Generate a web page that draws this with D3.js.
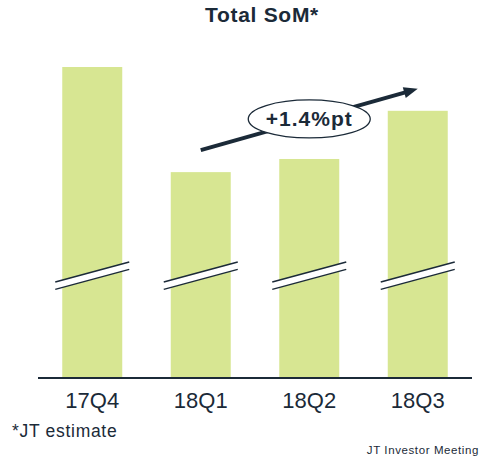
<!DOCTYPE html>
<html>
<head>
<meta charset="utf-8">
<script src="https://cdn.jsdelivr.net/npm/d3@7"></script>
<style>
  body { margin: 0; background: #fff; }
  text { font-family: "Liberation Sans", Arial, sans-serif; fill: #1b2a38; }
</style>
</head>
<body>
<svg class="chart"></svg>
<script>
var width = 484,
    height = 459;

// total share of market (%), axis is broken so bars start above zero
var quarters = ["17Q4", "18Q1", "18Q2", "18Q3"];
var som = [62.0, 59.6, 59.9, 61.0];
var change = "+1.4%pt";

var barColor = "#d7e692",
    ink = "#1b2a38";

var x = d3.scaleBand()
    .domain(quarters)
    .range([38, 472])
    .paddingInner(0.447)
    .paddingOuter(0.2235);

var y = d3.scaleLinear()
    .domain([54.9, 62.0])
    .range([378, 67]);

var chart = d3.select(".chart")
    .attr("width", width)
    .attr("height", height);

chart.append("text")
    .attr("x", 262)
    .attr("y", 22)
    .attr("text-anchor", "middle")
    .style("font-size", "21px")
    .style("font-weight", "bold")
    .style("letter-spacing", "0.7px")
    .text("Total SoM*");

var bar = chart.selectAll("g.bar")
    .data(quarters)
  .enter().append("g")
    .attr("class", "bar");

bar.append("rect")
    .attr("x", function(d) { return x(d); })
    .attr("width", x.bandwidth())
    .attr("y", function(d, i) { return y(som[i]); })
    .attr("height", function(d, i) { return y.range()[0] - y(som[i]); })
    .attr("fill", barColor);

// axis break marks
var breakY = 275.7, breakRise = 10, gap = 3.7, over = 7;
bar.append("path")
    .attr("d", function(d) {
      var x0 = x(d) - over, x1 = x(d) + x.bandwidth() + over;
      return "M" + x0 + "," + (breakY + breakRise - gap) +
        "L" + x1 + "," + (breakY - breakRise - gap) +
        "L" + x1 + "," + (breakY - breakRise + gap) +
        "L" + x0 + "," + (breakY + breakRise + gap) + "Z";
    })
    .attr("fill", "#fff");

[-gap, gap].forEach(function(off) {
  bar.append("line")
      .attr("x1", function(d) { return x(d) - over; })
      .attr("x2", function(d) { return x(d) + x.bandwidth() + over; })
      .attr("y1", breakY + breakRise + off)
      .attr("y2", breakY - breakRise + off)
      .attr("stroke", ink)
      .attr("stroke-width", 1.5);
});

// baseline
chart.append("line")
    .attr("x1", x.range()[0])
    .attr("x2", x.range()[1])
    .attr("y1", y.range()[0])
    .attr("y2", y.range()[0])
    .attr("stroke", ink)
    .attr("stroke-width", 2);

bar.append("text")
    .attr("x", function(d) { return x(d) + x.bandwidth() / 2; })
    .attr("y", 408)
    .attr("text-anchor", "middle")
    .style("font-size", "22px")
    .text(function(d) { return d; });

// trend arrow 18Q1 -> 18Q3
var ax0 = x("18Q1") + x.bandwidth() / 2, ay0 = y(som[1]) - 22,
    ax1 = x("18Q3") + x.bandwidth() / 2, ay1 = y(som[3]) - 22;
var ang = Math.atan2(ay1 - ay0, ax1 - ax0),
    headLen = 14, headW = 5.5;
var bx = ax1 - headLen * Math.cos(ang), by = ay1 - headLen * Math.sin(ang);

chart.append("line")
    .attr("x1", ax0).attr("y1", ay0)
    .attr("x2", bx + 2 * Math.cos(ang)).attr("y2", by + 2 * Math.sin(ang))
    .attr("stroke", ink)
    .attr("stroke-width", 4);

chart.append("path")
    .attr("d", "M" + ax1 + "," + ay1 +
      "L" + (bx - headW * Math.sin(ang)) + "," + (by + headW * Math.cos(ang)) +
      "L" + (bx + headW * Math.sin(ang)) + "," + (by - headW * Math.cos(ang)) + "Z")
    .attr("fill", ink);

var cx = (ax0 + ax1) / 2, cy = (ay0 + ay1) / 2 - 0.5;
chart.append("ellipse")
    .attr("cx", cx)
    .attr("cy", cy)
    .attr("rx", 61)
    .attr("ry", 19)
    .attr("fill", "#fff")
    .attr("stroke", ink)
    .attr("stroke-width", 1.3);

chart.append("text")
    .attr("x", cx)
    .attr("y", cy + 7.5)
    .attr("text-anchor", "middle")
    .style("font-size", "21px")
    .style("font-weight", "bold")
    .style("letter-spacing", "1px")
    .text(change);

chart.append("text")
    .attr("x", 12)
    .attr("y", 437)
    .style("font-size", "17.5px")
    .style("letter-spacing", "0.7px")
    .text("*JT estimate");

chart.append("text")
    .attr("x", 479)
    .attr("y", 454)
    .attr("text-anchor", "end")
    .style("font-size", "11.5px")
    .style("letter-spacing", "0.6px")
    .text("JT Investor Meeting");
</script>
</body>
</html>
